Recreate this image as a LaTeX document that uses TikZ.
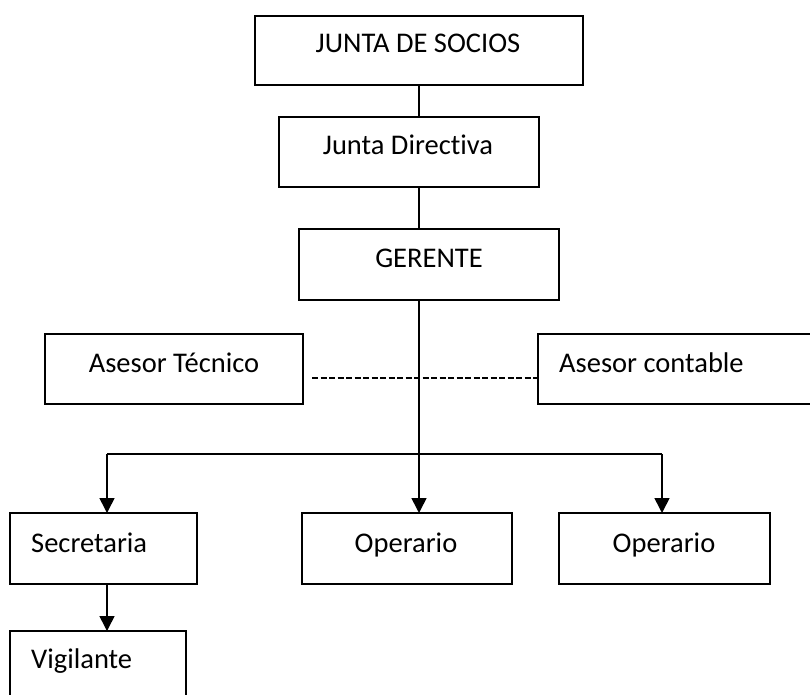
\documentclass[tikz,border=0pt]{standalone}
\usepackage{fontspec}
\setmainfont[Ligatures={NoCommon}]{Carlito}
\usetikzlibrary{arrows.meta}
\begin{document}
\begin{tikzpicture}[x=1pt,y=-1pt,
  box/.style={draw,line width=1.7pt,inner sep=0pt,outer sep=0pt},
  lbl/.style={inner sep=0pt,anchor=base,font=\fontsize{28.5}{34}\selectfont},
  lbll/.style={lbl,anchor=base west},
  link/.style={line width=1.6pt},
  arr/.style={line width=1.6pt,-{Triangle[length=15pt,width=15pt]}},
  dashlink/.style={line width=2.6pt,dash pattern=on 6pt off 2.5pt}]
\useasboundingbox (0,0) rectangle (810,695);
\clip (0,0) rectangle (810,695);
% boxes
\node[box,minimum width=328pt,minimum height=69pt] (socios) at (419,50.5) {};
\node[box,minimum width=260pt,minimum height=70pt] (directiva) at (409,152) {};
\node[box,minimum width=260pt,minimum height=71pt] (gerente) at (429,264.5) {};
\node[box,minimum width=258pt,minimum height=70pt] (tecnico) at (174,369) {};
\node[box,minimum width=300pt,minimum height=70pt] (contable) at (688,369) {};
\node[box,minimum width=187pt,minimum height=71pt] (secretaria) at (103.5,548.5) {};
\node[box,minimum width=210pt,minimum height=71pt] (op1) at (407,548.5) {};
\node[box,minimum width=211pt,minimum height=71pt] (op2) at (664.5,548.5) {};
\node[box,minimum width=176pt,minimum height=100pt] (vigilante) at (98,681) {};
% texts
\node[lbl] (tsocios) at (418,53) {JUNTA DE SOCIOS};
\node[lbl] (tdirectiva) at (408,155) {Junta Directiva};
\node[lbl] (tgerente) at (429,267) {GERENTE};
\node[lbl] (ttecnico) at (174,372) {Asesor Técnico};
\node[lbll] (tcontable) at (559,372) {Asesor contable};
\node[lbll] (tsecretaria) at (31,552) {Secretaria};
\node[lbl] (top1) at (406,552) {Operario};
\node[lbl] (top2) at (664,552) {Operario};
\node[lbll] (tvigilante) at (31,668) {Vigilante};
% connectors
\coordinate (spine) at (419,454);
\coordinate (bl) at (107,454);
\coordinate (br) at (662,454);
\coordinate (dstart) at (312,378);
\draw[link] (socios.south) -- (socios.south |- directiva.north);
\draw[link] (socios.south |- directiva.south) -- (socios.south |- gerente.north);
\draw[link] (socios.south |- gerente.south) -- (spine);
\draw[arr] (spine) -- (spine |- op1.north);
\draw[link] (bl) -- (br);
\draw[arr] (bl) -- (bl |- secretaria.north);
\draw[arr] (br) -- (br |- op2.north);
\draw[arr] (bl |- secretaria.south) -- (bl |- vigilante.north);
\draw[dashlink] (dstart) -- (dstart -| contable.west);
\end{tikzpicture}
\end{document}
